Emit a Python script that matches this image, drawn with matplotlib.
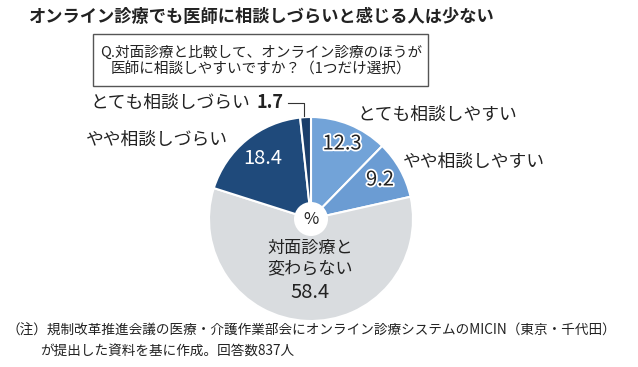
import matplotlib.pyplot as plt
from matplotlib.patches import Rectangle, Circle
import matplotlib.patheffects as pe

plt.rcParams['font.family'] = ['Noto Sans CJK JP', 'DejaVu Sans']

# survey answers, clockwise from 12 o'clock
categories = ['とても相談しやすい', 'やや相談しやすい', '対面診療と\n変わらない', 'やや相談しづらい', 'とても相談しづらい']
values = [12.3, 9.2, 58.4, 18.4, 1.7]
colors = ['#72a3d8', '#6b9cd3', '#d9dcdf', '#1f4a7b', '#1b3e6a']

title = 'オンライン診療でも医師に相談しづらいと感じる人は少ない'
question = 'Q.対面診療と比較して、オンライン診療のほうが\n医師に相談しやすいですか？（1つだけ選択）'
note1 = '（注）規制改革推進会議の医療・介護作業部会にオンライン診療システムのMICIN（東京・千代田）'
note2 = 'が提出した資料を基に作成。回答数837人'

H = 367
fig = plt.figure(figsize=(6.38, 3.67), dpi=100)
ax = fig.add_axes([0, 0, 1, 1])

cx, cy, r = 311, H - 219, 102
wedges, _ = ax.pie(values, colors=colors, startangle=90, counterclock=False,
                   center=(cx, cy), radius=r,
                   wedgeprops=dict(edgecolor='white', linewidth=1.5))
ax.add_patch(Circle((cx, cy), 17, facecolor='white', edgecolor='none', zorder=5))
ax.text(cx, cy - 1, '%', ha='center', va='center', fontsize=12, color='#222', zorder=6)

ax.set_xlim(0, 638)
ax.set_ylim(0, H)
ax.set_aspect('equal', adjustable='datalim')
ax.axis('off')

# title and question box
ax.text(262, H - 17, title, ha='center', va='center', fontsize=12.4,
        fontweight='bold', color='#222')
ax.add_patch(Rectangle((93, H - 86), 335, 52, facecolor='white',
                       edgecolor='#555', linewidth=1))
ax.text(261, H - 61, question, ha='center', va='center', fontsize=10.5,
        color='#222', linespacing=1.25)

# values on the slices
halo = [pe.withStroke(linewidth=2.5, foreground='white')]
ax.text(342, H - 144, f'{values[0]}', ha='center', va='center', fontsize=14.5,
        color='#222', path_effects=halo)
ax.text(380, H - 180, f'{values[1]}', ha='center', va='center', fontsize=14.5,
        color='#222', path_effects=halo)
ax.text(263, H - 158, f'{values[3]}', ha='center', va='center', fontsize=14.5,
        color='white')
ax.text(310, H - 258, categories[2], ha='center', va='center', fontsize=12.3,
        color='#222', linespacing=1.15)
ax.text(310, H - 292, f'{values[2]}', ha='center', va='center', fontsize=14.5,
        color='#222')

# outside labels
ax.text(357, H - 115, categories[0], ha='left', va='center', fontsize=12.8, color='#222')
ax.text(403, H - 162, categories[1], ha='left', va='center', fontsize=12.8, color='#222')
ax.text(228, H - 140, categories[3], ha='right', va='center', fontsize=12.8, color='#222')
ax.text(250, H - 103, categories[4], ha='right', va='center', fontsize=12.8, color='#222')
ax.text(257, H - 103, f'{values[4]}', ha='left', va='center', fontsize=13,
        fontweight='bold', color='#222')
ax.plot([288, 304, 304], [H - 103, H - 103, H - 116], color='#333', linewidth=0.8)

# note
ax.text(6, H - 331, note1, ha='left', va='center', fontsize=9.8, color='#222')
ax.text(40, H - 352, note2, ha='left', va='center', fontsize=9.8, color='#222')

fig.savefig('out.png', dpi=100)
